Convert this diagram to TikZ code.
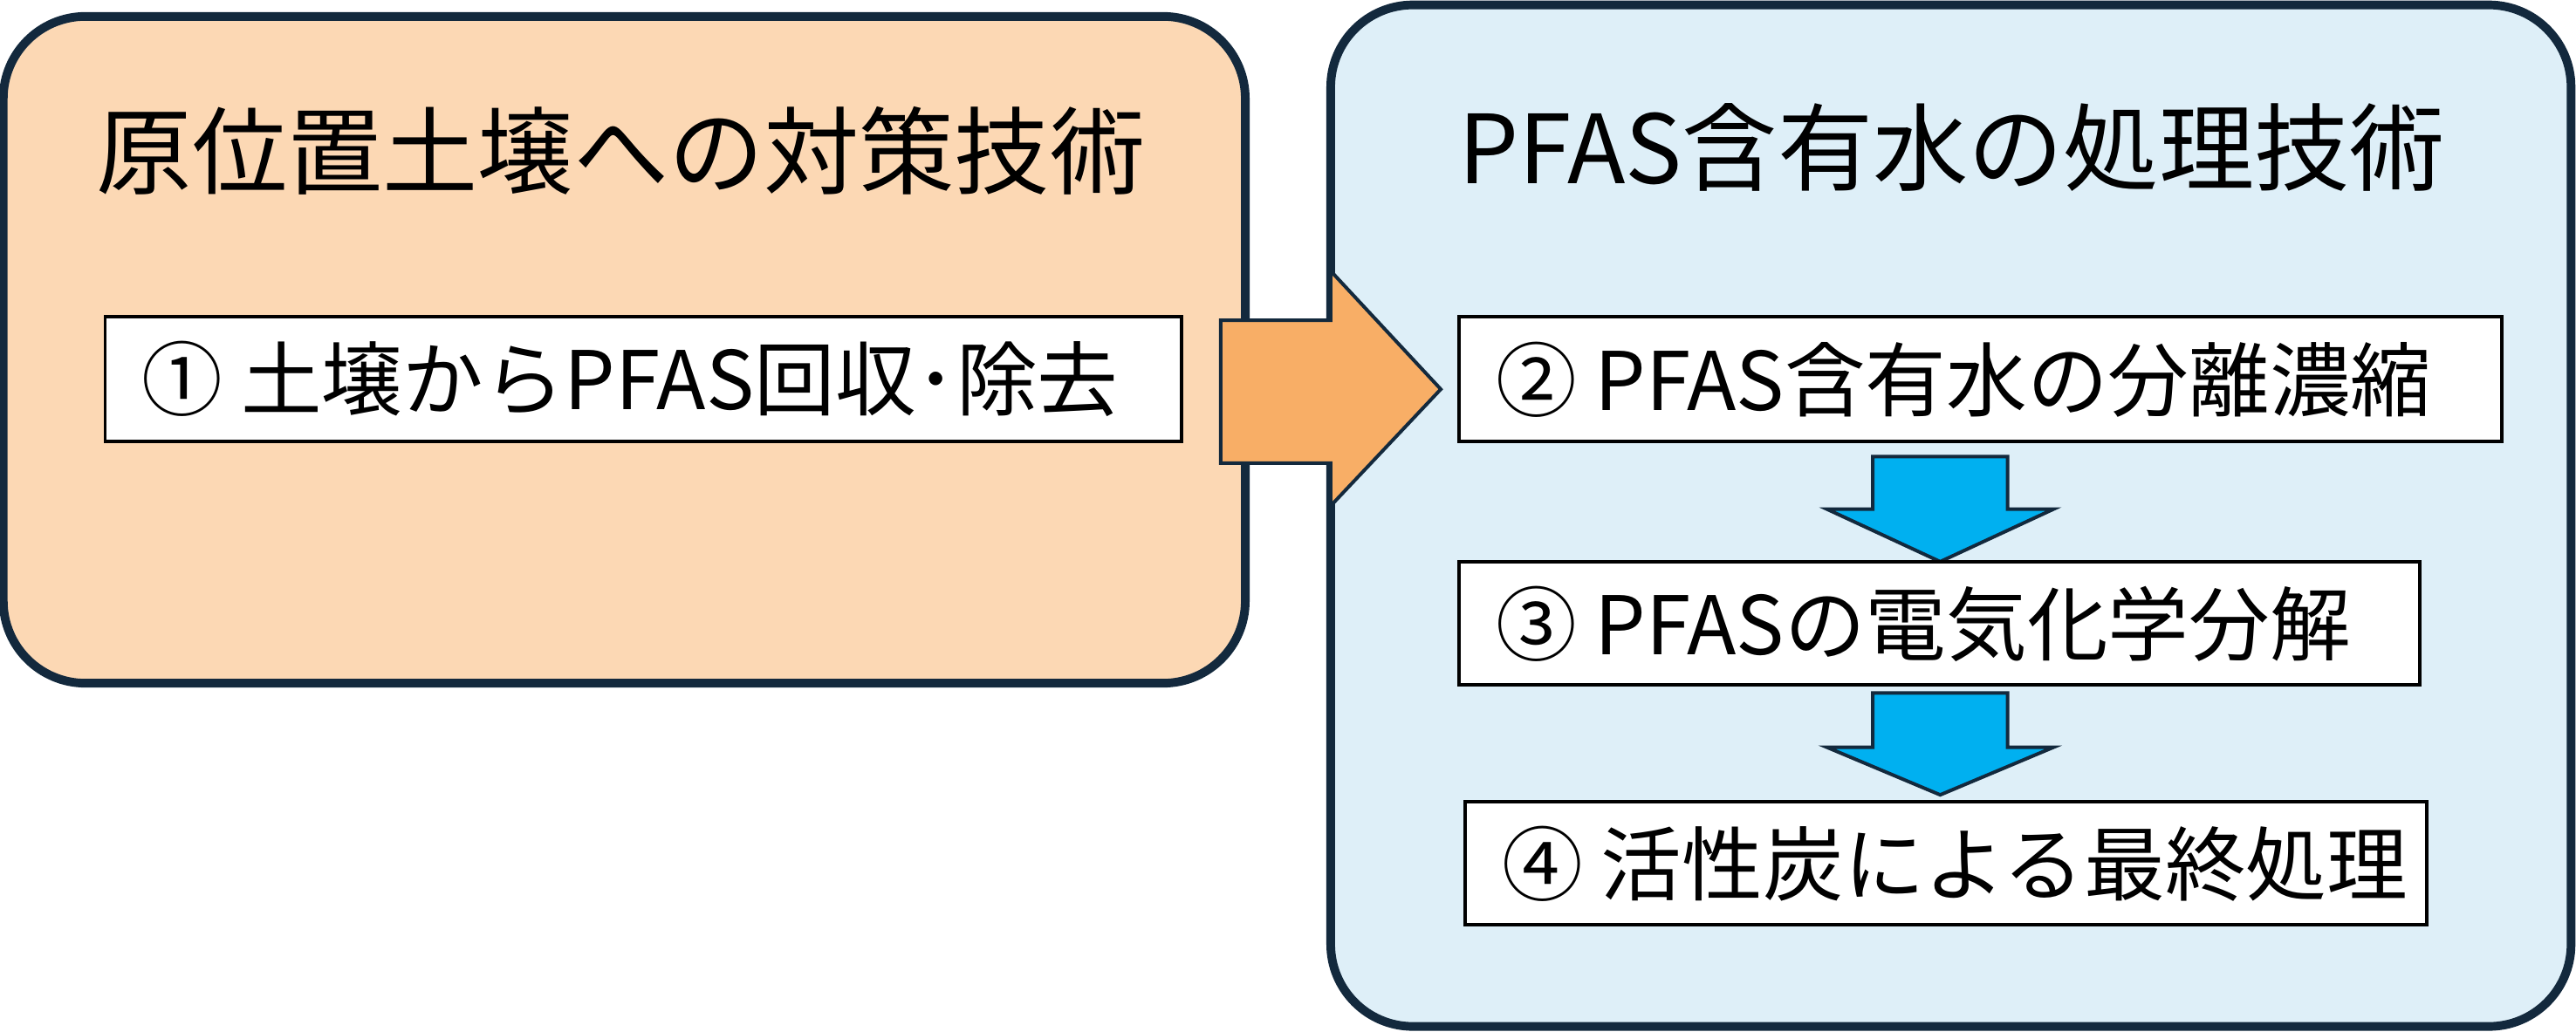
\documentclass[tikz,border=0pt]{standalone}
\usepackage{fontspec}
\setmainfont{Noto Sans CJK JP}
\definecolor{peach}{HTML}{FCD8B4}
\definecolor{pale}{HTML}{DEEFF8}
\definecolor{navy}{HTML}{13293D}
\definecolor{orng}{HTML}{F8AE66}
\definecolor{sky}{HTML}{00B0F0}
\begin{document}
\begin{tikzpicture}[x=0.01cm,y=-0.01cm,
  panel/.style={draw=navy,line width=1.5pt,rounded corners=0.5cm},
  stepbox/.style={draw=black,line width=0.6pt,fill=white},
  steptext/.style={font=\fontsize{14pt}{16pt}\selectfont,anchor=west},
  title/.style={font=\fontsize{16.5pt}{20pt}\selectfont},
  down/.style={fill=sky,draw=navy,line width=0.6pt}]
\useasboundingbox (0,0) rectangle (1568,628);
\draw[panel,fill=peach] (2,10) rectangle (758,416);
\draw[panel,fill=pale] (810,3) rectangle (1565,625);
\node[title] (t1) at (378,92) {原位置土壌への対策技術};
\node[title] (t2) at (1188,90) {PFAS含有水の処理技術};
\draw[stepbox] (64,193) rectangle (719,269);
\node[steptext] (s1) at (74,231) {① 土壌からPFAS回収･除去};
\draw[fill=orng,draw=navy,line width=0.6pt] (743,195) -- (810,195) -- (810,165) -- (877,237) -- (810,308) -- (810,282) -- (743,282) -- cycle;
\draw[stepbox] (888,193) rectangle (1523,269);
\node[steptext] (s2) at (898,231) {② PFAS含有水の分離濃縮};
\draw[down] (1140,278) -- (1222,278) -- (1222,310) -- (1250,310) -- (1181,342) -- (1112,310) -- (1140,310) -- cycle;
\draw[stepbox] (888,342) rectangle (1473,417);
\node[steptext] (s3) at (898,380) {③ PFASの電気化学分解};
\draw[down] (1140,422) -- (1222,422) -- (1222,455) -- (1250,455) -- (1181,484) -- (1112,455) -- (1140,455) -- cycle;
\draw[stepbox] (892,488) rectangle (1477,563);
\node[steptext] (s4) at (902,526) {④ 活性炭による最終処理};
\end{tikzpicture}
\end{document}
